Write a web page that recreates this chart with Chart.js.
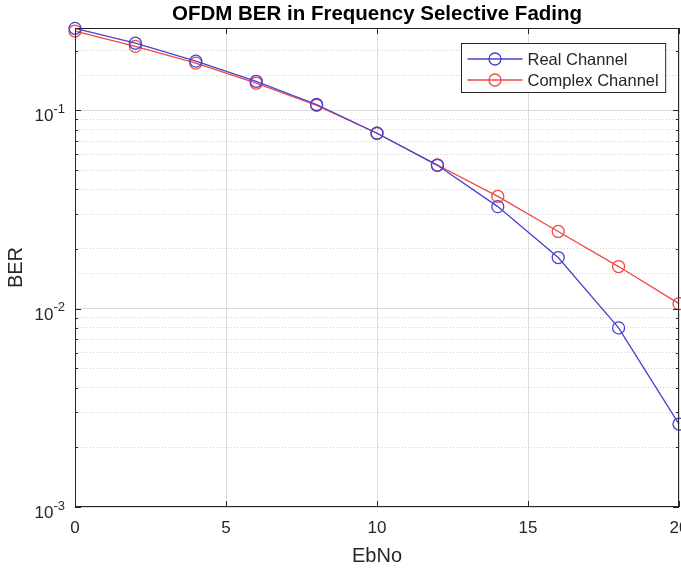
<!DOCTYPE html>
<html>
<head>
<meta charset="utf-8">
<script src="https://cdn.jsdelivr.net/npm/chart.js@4"></script>
<style>
  html, body { margin: 0; padding: 0; background: #fff; }
  #wrap { width: 681px; height: 569px; }
</style>
</head>
<body>
<div id="wrap"><canvas id="chart-ber"></canvas></div>
<script>
const ebno = [0, 2, 4, 6, 8, 10, 12, 14, 16, 18, 20];
const berReal = [0.259, 0.218, 0.177, 0.140, 0.107, 0.0766, 0.0528, 0.0327, 0.0181, 0.0080, 0.00262];
const berComplex = [0.251, 0.210, 0.173, 0.137, 0.106, 0.0766, 0.053, 0.0368, 0.0245, 0.0163, 0.0106];
const seriesNames = [`Real Channel`, `Complex Channel`];
const seriesColors = [`#4444cc`, `#f04848`];
const yMin = 0.001;
const yMax = 0.26;
const xTicks = [0, 5, 10, 15, 20];

const fontFace = `"Liberation Sans", Arial, Helvetica, sans-serif`;
const ink = `#262626`;

const isDecade = v => Math.abs(Math.log10(v) - Math.round(Math.log10(v))) < 1e-9;
const pts = ys => ebno.map((x, i) => ({ x, y: ys[i] }));

// axes box, inward ticks, 10^n labels, legend
const matlabBits = {
  id: `matlabBits`,
  afterDraw(chart) {
    const { ctx, chartArea: a, scales } = chart;
    const xs = scales.x, ys = scales.y;
    ctx.save();
    ctx.strokeStyle = ink;
    ctx.lineWidth = 1;
    ctx.strokeRect(a.left + 0.5, a.top + 0.5, a.right - a.left - 1, a.bottom - a.top - 1);

    ctx.beginPath();
    xTicks.forEach(v => {
      const px = Math.round(xs.getPixelForValue(v)) + 0.5;
      ctx.moveTo(px, a.bottom); ctx.lineTo(px, a.bottom - 6);
      ctx.moveTo(px, a.top); ctx.lineTo(px, a.top + 6);
    });
    for (let e = -3; e <= -1; e++) {
      for (let m = 1; m <= 9; m++) {
        const v = m * Math.pow(10, e);
        if (v > yMax) continue;
        const py = Math.round(ys.getPixelForValue(v)) + 0.5;
        const len = m === 1 ? 6 : 3;
        ctx.moveTo(a.left, py); ctx.lineTo(a.left + len, py);
        ctx.moveTo(a.right, py); ctx.lineTo(a.right - len, py);
      }
    }
    ctx.stroke();

    // y tick labels
    ctx.fillStyle = ink;
    ctx.textBaseline = `alphabetic`;
    [-3, -2, -1].forEach(e => {
      const py = ys.getPixelForValue(Math.pow(10, e));
      ctx.font = `13px ${fontFace}`;
      ctx.textAlign = `right`;
      const expTxt = String(e);
      const expW = ctx.measureText(expTxt).width;
      ctx.fillText(expTxt, a.left - 10, py + 2.5);
      ctx.font = `17px ${fontFace}`;
      ctx.fillText(`10`, a.left - 10 - expW, py + 11);
    });

    // legend
    ctx.font = `16.5px ${fontFace}`;
    const textW = Math.max(...seriesNames.map(s => ctx.measureText(s).width));
    const lineLen = 55;
    const boxW = 6 + lineLen + 5 + textW + 7;
    const boxH = 49;
    const bx = Math.round(a.right - 14 - boxW) + 0.5;
    const by = Math.round(a.top + 15) + 0.5;
    ctx.fillStyle = `#fff`;
    ctx.fillRect(bx, by, boxW, boxH);
    ctx.strokeStyle = ink;
    ctx.strokeRect(bx, by, boxW, boxH);
    seriesNames.forEach((name, i) => {
      const ry = by + 15.5 + i * 21;
      ctx.strokeStyle = seriesColors[i];
      ctx.lineWidth = 1.3;
      ctx.beginPath();
      ctx.moveTo(bx + 6, ry); ctx.lineTo(bx + 6 + lineLen, ry);
      ctx.stroke();
      ctx.beginPath();
      ctx.arc(bx + 6 + lineLen / 2, ry, 6, 0, Math.PI * 2);
      ctx.stroke();
      ctx.fillStyle = ink;
      ctx.textAlign = `left`;
      ctx.textBaseline = `middle`;
      ctx.fillText(name, bx + 6 + lineLen + 5, ry + 1);
    });
    ctx.restore();
  }
};

const makeSet = (label, data, color) => ({
  label,
  data,
  borderColor: color,
  backgroundColor: `rgba(0,0,0,0)`,
  borderWidth: 1.3,
  pointRadius: 6,
  pointHoverRadius: 6,
  pointBorderWidth: 1.3,
  pointBackgroundColor: `rgba(0,0,0,0)`,
  pointBorderColor: color,
  tension: 0,
  clip: false
});

const ber = document.getElementById(`chart-ber`);
const berChart = new Chart(ber, {
  type: `line`,
  data: {
    datasets: [
      makeSet(seriesNames[0], pts(berReal), seriesColors[0]),
      makeSet(seriesNames[1], pts(berComplex), seriesColors[1])
    ]
  },
  options: {
    responsive: true,
    maintainAspectRatio: false,
    animation: false,
    events: [],
    layout: { autoPadding: false, padding: { left: 4, right: 2, top: 0, bottom: 0.6 } },
    plugins: {
      legend: { display: false },
      tooltip: { enabled: false },
      title: {
        display: true,
        fullSize: false,
        text: `OFDM BER in Frequency Selective Fading`,
        color: `#000`,
        font: { family: fontFace, size: 20.5, weight: `bold` },
        padding: { top: 1.7, bottom: 1.7 }
      }
    },
    scales: {
      x: {
        type: `linear`,
        min: 0,
        max: 20,
        afterBuildTicks: s => { s.ticks = xTicks.map(value => ({ value })); },
        afterFit: s => { s.paddingRight = 0; s.paddingLeft = 0; },
        grid: { color: `#dcdcdc`, drawTicks: false, lineWidth: 1 },
        border: { display: false },
        ticks: { color: ink, font: { family: fontFace, size: 17 }, padding: 11, maxRotation: 0 },
        title: { display: true, text: `EbNo`, color: ink, font: { family: fontFace, size: 20 }, padding: { top: -5, bottom: 0 } }
      },
      y: {
        type: `logarithmic`,
        position: `left`,
        min: yMin,
        max: yMax,
        afterBuildTicks: s => { s.ticks = s.ticks.filter(t => isDecade(t.value)); },
        afterFit: s => { s.width = 71; },
        grid: { color: `#dcdcdc`, drawTicks: false, lineWidth: 1 },
        border: { display: false },
        ticks: { display: false },
        title: { display: true, text: `BER`, color: ink, font: { family: fontFace, size: 20 }, padding: { top: 0, bottom: 0 } }
      },
      yMinor: {
        type: `logarithmic`,
        position: `left`,
        min: yMin,
        max: yMax,
        afterBuildTicks: s => { s.ticks = s.ticks.filter(t => !isDecade(t.value) && t.value < yMax * 0.99); },
        afterFit: s => { s.width = 0; },
        grid: { color: `#d0d0d0`, drawTicks: false, lineWidth: 1 },
        border: { display: false, dash: [1, 2] },
        ticks: { display: false }
      }
    }
  },
  plugins: [matlabBits]
});
</script>
</body>
</html>
